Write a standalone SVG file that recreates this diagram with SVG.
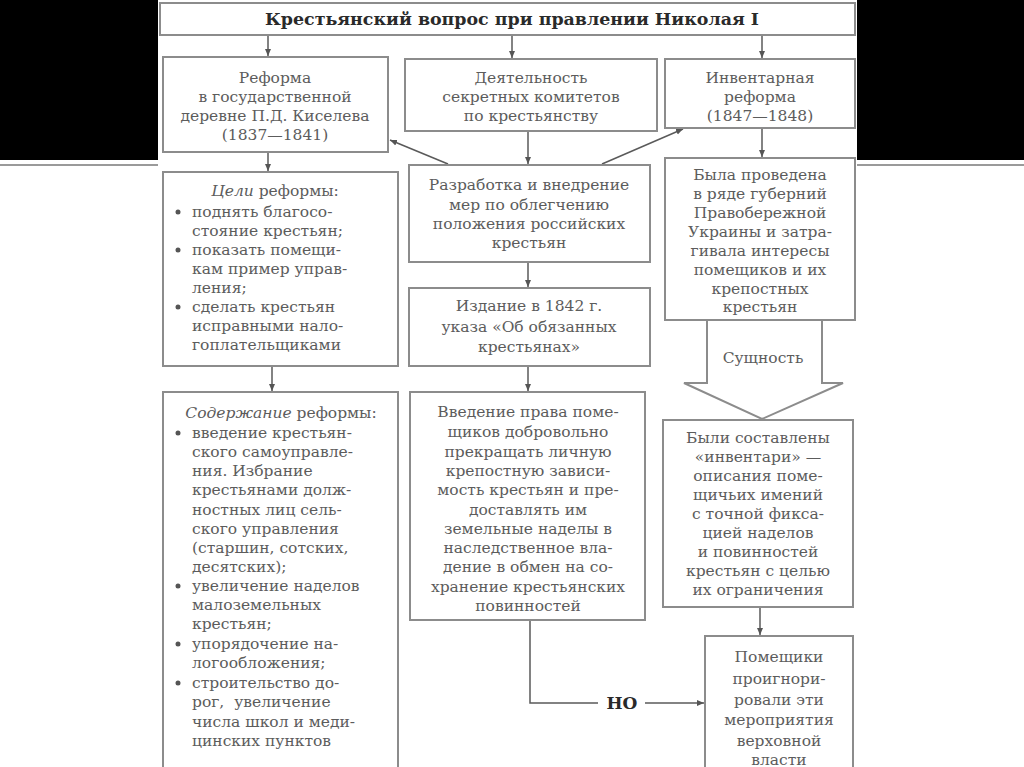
<svg xmlns="http://www.w3.org/2000/svg" width="1024" height="767" viewBox="0 0 1024 767">
<defs>
<marker id="ah" markerWidth="8" markerHeight="8" refX="7" refY="4" orient="auto" markerUnits="userSpaceOnUse">
<path d="M0,1 L7,4 L0,7 z" fill="#555"/>
</marker>
<style>
.box{fill:#fff;stroke:#8c8c8c;stroke-width:2}
.t{font-family:"DejaVu Serif","Liberation Serif",serif;font-size:15.5px;fill:#5c5c5c;text-anchor:middle}
.l{text-anchor:start}
.b{font-weight:bold;fill:#2a2a2a}
.c{fill:none;stroke:#5a5a5a;stroke-width:1.5}
.bul{fill:#555}
</style>
</defs>
<rect x="0" y="0" width="1024" height="767" fill="#fff"/>
<rect x="0" y="0" width="158" height="160" fill="#000"/>
<rect x="857" y="0" width="167" height="160" fill="#000"/>
<line x1="0" y1="165" x2="158" y2="165" stroke="#9a9a9a" stroke-width="2"/>
<line x1="857" y1="165" x2="1024" y2="165" stroke="#9a9a9a" stroke-width="2"/>

<g id="connectors">
<line class="c" x1="268" y1="35" x2="268" y2="56" marker-end="url(#ah)"/>
<line class="c" x1="512" y1="35" x2="512" y2="58" marker-end="url(#ah)"/>
<line class="c" x1="762" y1="35" x2="762" y2="58" marker-end="url(#ah)"/>
<line class="c" x1="528" y1="131" x2="528" y2="164" marker-end="url(#ah)"/>
<line class="c" x1="448" y1="164" x2="390" y2="140" marker-end="url(#ah)"/>
<line class="c" x1="602" y1="164" x2="683" y2="129" marker-end="url(#ah)"/>
<line class="c" x1="268" y1="152" x2="268" y2="171" marker-end="url(#ah)"/>
<line class="c" x1="762" y1="128" x2="762" y2="157" marker-end="url(#ah)"/>
<line class="c" x1="528" y1="262" x2="528" y2="287" marker-end="url(#ah)"/>
<line class="c" x1="528" y1="366" x2="528" y2="391" marker-end="url(#ah)"/>
<line class="c" x1="272" y1="366" x2="272" y2="391" marker-end="url(#ah)"/>
<line class="c" x1="760" y1="607" x2="760" y2="635" marker-end="url(#ah)"/>
<polyline class="c" points="530,620 530,703 598,703"/>
<line class="c" x1="645" y1="703" x2="704" y2="703" marker-end="url(#ah)"/>
<text class="t b" x="622" y="709" style="font-size:17px">НО</text>
<path d="M707,320 L707,383 L684,383 L762,419 L843,383 L822,383 L822,320" fill="#fff" stroke="#8c8c8c" stroke-width="2"/>
<text class="t" x="763" y="363">Сущность</text>
</g>

<g id="title">
<rect class="box" x="160" y="3" width="695" height="32"/>
<text class="t b" x="512" y="25" style="font-size:16px" textLength="494" lengthAdjust="spacingAndGlyphs">Крестьянский вопрос при правлении Николая I</text>
</g>

<g id="kiselev">
<rect class="box" x="163" y="57" width="225" height="95"/>
<text class="t" x="275" y="83">Реформа</text>
<text class="t" x="275" y="102">в государственной</text>
<text class="t" x="275" y="121">деревне П.Д. Киселева</text>
<text class="t" x="275" y="140">(1837—1841)</text>
</g>

<g id="committees">
<rect class="box" x="405" y="59" width="252" height="72"/>
<text class="t" x="531" y="83">Деятельность</text>
<text class="t" x="531" y="102">секретных комитетов</text>
<text class="t" x="531" y="121">по крестьянству</text>
</g>

<g id="inventory">
<rect class="box" x="665" y="59" width="190" height="69"/>
<text class="t" x="760" y="83">Инвентарная</text>
<text class="t" x="760" y="102">реформа</text>
<text class="t" x="760" y="121">(1847—1848)</text>
</g>

<g id="goals">
<rect class="box" x="163" y="172" width="235" height="194"/>
<text class="t" x="275" y="196"><tspan font-style="italic">Цели</tspan> реформы:</text>
<circle class="bul" cx="178" cy="212" r="2.5"/>
<circle class="bul" cx="178" cy="250" r="2.5"/>
<circle class="bul" cx="178" cy="307" r="2.5"/>
<text class="t l" x="192" y="217">поднять благосо-</text>
<text class="t l" x="192" y="236">стояние крестьян;</text>
<text class="t l" x="192" y="255">показать помещи-</text>
<text class="t l" x="192" y="274">кам пример управ-</text>
<text class="t l" x="192" y="293">ления;</text>
<text class="t l" x="192" y="312">сделать крестьян</text>
<text class="t l" x="192" y="331">исправными нало-</text>
<text class="t l" x="192" y="350">гоплательщиками</text>
</g>

<g id="content">
<rect class="box" x="163" y="392" width="235" height="380"/>
<text class="t" x="281" y="418"><tspan font-style="italic">Содержание</tspan> реформы:</text>
<circle class="bul" cx="178" cy="433" r="2.5"/>
<circle class="bul" cx="178" cy="586" r="2.5"/>
<circle class="bul" cx="178" cy="644" r="2.5"/>
<circle class="bul" cx="178" cy="683" r="2.5"/>
<text class="t l" x="192" y="438">введение крестьян-</text>
<text class="t l" x="192" y="457">ского самоуправле-</text>
<text class="t l" x="192" y="476">ния. Избрание</text>
<text class="t l" x="192" y="495">крестьянами долж-</text>
<text class="t l" x="192" y="515">ностных лиц сель-</text>
<text class="t l" x="192" y="534">ского управления</text>
<text class="t l" x="192" y="553">(старшин, сотских,</text>
<text class="t l" x="192" y="572">десятских);</text>
<text class="t l" x="192" y="591">увеличение наделов</text>
<text class="t l" x="192" y="610">малоземельных</text>
<text class="t l" x="192" y="629">крестьян;</text>
<text class="t l" x="192" y="649">упорядочение на-</text>
<text class="t l" x="192" y="668">логообложения;</text>
<text class="t l" x="192" y="688">строительство до-</text>
<text class="t l" x="192" y="707" xml:space="preserve">рог,  увеличение</text>
<text class="t l" x="192" y="727">числа школ и меди-</text>
<text class="t l" x="192" y="746">цинских пунктов</text>
</g>

<g id="development">
<rect class="box" x="409" y="165" width="241" height="97"/>
<text class="t" x="529" y="190">Разработка и внедрение</text>
<text class="t" x="529" y="210">мер по облегчению</text>
<text class="t" x="529" y="229">положения российских</text>
<text class="t" x="529" y="248">крестьян</text>
</g>

<g id="decree">
<rect class="box" x="409" y="288" width="241" height="78"/>
<text class="t" x="529" y="311">Издание в 1842 г.</text>
<text class="t" x="529" y="332">указа «Об обязанных</text>
<text class="t" x="529" y="352">крестьянах»</text>
</g>

<g id="rights">
<rect class="box" x="410" y="392" width="235" height="228"/>
<text class="t" x="528" y="417">Введение права поме-</text>
<text class="t" x="528" y="437">щиков добровольно</text>
<text class="t" x="528" y="457">прекращать личную</text>
<text class="t" x="528" y="476">крепостную зависи-</text>
<text class="t" x="528" y="495">мость крестьян и пре-</text>
<text class="t" x="528" y="515">доставлять им</text>
<text class="t" x="528" y="534">земельные наделы в</text>
<text class="t" x="528" y="553">наследственное вла-</text>
<text class="t" x="528" y="572">дение в обмен на со-</text>
<text class="t" x="528" y="592">хранение крестьянских</text>
<text class="t" x="528" y="611">повинностей</text>
</g>

<g id="carried">
<rect class="box" x="665" y="158" width="190" height="162"/>
<text class="t" x="760" y="180">Была проведена</text>
<text class="t" x="760" y="199">в ряде губерний</text>
<text class="t" x="760" y="218">Правобережной</text>
<text class="t" x="760" y="237">Украины и затра-</text>
<text class="t" x="760" y="256">гивала интересы</text>
<text class="t" x="760" y="275">помещиков и их</text>
<text class="t" x="760" y="294">крепостных</text>
<text class="t" x="760" y="312">крестьян</text>
</g>

<g id="inventories">
<rect class="box" x="663" y="420" width="190" height="187"/>
<text class="t" x="758" y="443">Были составлены</text>
<text class="t" x="758" y="462">«инвентари» —</text>
<text class="t" x="758" y="481">описания поме-</text>
<text class="t" x="758" y="500">щичьих имений</text>
<text class="t" x="758" y="519">с точной фикса-</text>
<text class="t" x="758" y="538">цией наделов</text>
<text class="t" x="758" y="557">и повинностей</text>
<text class="t" x="758" y="576">крестьян с целью</text>
<text class="t" x="758" y="595">их ограничения</text>
</g>

<g id="ignored">
<rect class="box" x="705" y="636" width="148" height="140"/>
<text class="t" x="779" y="662">Помещики</text>
<text class="t" x="779" y="684">проигнори-</text>
<text class="t" x="779" y="705">ровали эти</text>
<text class="t" x="779" y="725">мероприятия</text>
<text class="t" x="779" y="746">верховной</text>
<text class="t" x="779" y="765">власти</text>
</g>
</svg>
